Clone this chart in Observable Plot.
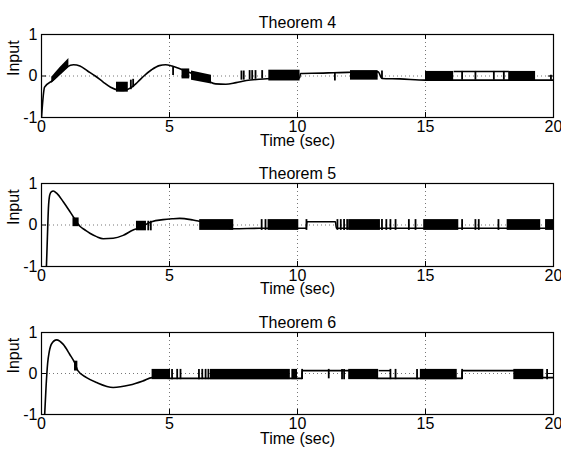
<!DOCTYPE html>
<html><head><meta charset="utf-8">
<script src="https://cdn.jsdelivr.net/npm/d3@7"></script>
<script src="https://cdn.jsdelivr.net/npm/@observablehq/plot@0.6"></script>
<style>body{margin:0;background:#fff}#chart svg{display:block}</style>
</head><body><div id="chart"></div>
<script>
const xTicks = [0, 5, 10, 15, 20];
const yTicks = [-1, 0, 1];
const titles = ["Theorem 4", "Theorem 5", "Theorem 6"];
const xLabel = "Time (sec)";
const yLabel = "Input";

// ---- Theorem 4 ----
const p1CurveT = [0, 0.12, 0.45, 0.7, 1.0, 1.25, 1.5, 1.8, 2.1, 2.4, 2.7, 3.0, 3.2, 3.5, 3.75, 4.0, 4.3, 4.6, 4.85, 5.1, 5.5, 6.0, 6.5, 6.8, 7.2, 7.6, 8.0, 8.5, 9.0, 10.08, 10.12, 11.0, 11.4, 12.1, 13.15, 13.3, 14.0, 15.0, 16.1, 18.25, 19.3, 20];
const p1CurveU = [-1, -0.27, -0.1, 0.05, 0.22, 0.27, 0.24, 0.12, 0.0, -0.14, -0.27, -0.34, -0.35, -0.28, -0.15, 0.0, 0.15, 0.25, 0.27, 0.24, 0.15, 0.03, -0.12, -0.19, -0.2, -0.16, -0.11, -0.08, -0.06, -0.05, 0.06, 0.07, 0.08, 0.09, 0.1, -0.06, -0.07, -0.1, -0.1, -0.1, -0.1, -0.1];
const p1BandId = ["a", "a", "a", "b", "b"];
const p1BandT = [0.4, 0.72, 1.07, 5.86, 6.64];
const p1BandLo = [-0.18, 0.0, 0.2, -0.1, -0.19];
const p1BandHi = [-0.03, 0.2, 0.42, 0.12, 0.02];
const p1BlockStart = [2.93, 5.49, 8.88, 12.07, 15.0, 18.25];
const p1BlockEnd = [3.39, 5.79, 10.1, 13.15, 16.1, 19.3];
const p1BlockLo = [-0.39, -0.07, -0.12, -0.1, -0.13, -0.12];
const p1BlockHi = [-0.15, 0.17, 0.14, 0.13, 0.11, 0.11];
const p1SpikeT = [3.49, 3.58, 5.14, 7.81, 7.9, 8.13, 8.23, 8.36, 8.62, 11.46, 13.3, 16.43, 16.95, 17.67, 18.06, 19.9];
const p1SpikeLo = [-0.33, -0.28, 0.01, -0.1, -0.1, -0.09, -0.09, -0.08, -0.07, -0.12, -0.06, -0.1, -0.1, -0.1, -0.1, -0.1];
const p1SpikeHi = [-0.1, -0.08, 0.21, 0.12, 0.12, 0.13, 0.13, 0.13, 0.13, 0.08, 0.12, 0.11, 0.11, 0.11, 0.11, 0.02];
const p1RailStart = [16.1];
const p1RailEnd = [18.25];
const p1RailU = [0.11];

// ---- Theorem 5 ----
const p2CurveT = [0.19, 0.23, 0.27, 0.32, 0.38, 0.46, 0.6, 0.85, 1.05, 1.24, 1.5, 1.7, 1.89, 2.15, 2.41, 2.8, 3.19, 3.58, 3.78, 4.3, 4.75, 5.1, 5.4, 5.92, 6.18, 7.51, 8.55, 10.05, 10.34, 10.37, 11.48, 11.52, 13.3, 14.9, 16.3, 17.8, 19.5, 20];
const p2CurveU = [-1.05, -0.3, 0.4, 0.72, 0.8, 0.82, 0.76, 0.56, 0.38, 0.2, -0.03, -0.12, -0.2, -0.28, -0.33, -0.32, -0.25, -0.12, -0.08, 0.08, 0.13, 0.15, 0.16, 0.12, 0.09, -0.09, -0.08, -0.08, -0.08, 0.08, 0.08, -0.08, -0.08, -0.08, -0.08, -0.08, -0.08, -0.08];
const p2BandId = [];
const p2BandT = [];
const p2BandLo = [];
const p2BandHi = [];
const p2BlockStart = [1.23, 3.71, 6.18, 8.85, 12.0, 14.93, 18.19, 19.69];
const p2BlockEnd = [1.47, 4.1, 7.51, 10.05, 13.24, 16.3, 19.5, 20];
const p2BlockLo = [-0.04, -0.14, -0.13, -0.13, -0.13, -0.13, -0.13, -0.13];
const p2BlockHi = [0.17, 0.09, 0.13, 0.13, 0.13, 0.13, 0.13, 0.13];
const p2SpikeT = [4.17, 4.27, 8.6, 8.75, 10.35, 11.56, 11.69, 11.82, 11.94, 13.3, 13.47, 13.63, 13.83, 14.35, 14.61, 16.43, 16.95, 17.08, 17.85];
const p2SpikeLo = [-0.14, -0.14, -0.13, -0.13, -0.13, -0.13, -0.13, -0.13, -0.13, -0.13, -0.13, -0.13, -0.13, -0.13, -0.13, -0.13, -0.13, -0.13, -0.13];
const p2SpikeHi = [0.09, 0.09, 0.13, 0.13, 0.13, 0.13, 0.13, 0.13, 0.13, 0.13, 0.13, 0.13, 0.13, 0.13, 0.13, 0.13, 0.13, 0.13, 0.13];
const p2RailStart = [];
const p2RailEnd = [];
const p2RailU = [];

// ---- Theorem 6 ----
const p3CurveT = [0.12, 0.18, 0.24, 0.3, 0.39, 0.59, 0.85, 1.1, 1.29, 1.42, 1.76, 2.15, 2.8, 3.45, 3.97, 4.32, 5.04, 10.0, 10.17, 10.19, 12.0, 13.17, 14.8, 16.24, 16.42, 16.44, 18.45, 19.62, 20];
const p3CurveU = [-1.05, -0.3, 0.25, 0.52, 0.72, 0.82, 0.71, 0.47, 0.27, 0.07, -0.1, -0.22, -0.34, -0.28, -0.18, -0.1, -0.12, -0.12, -0.12, 0.07, 0.07, -0.12, -0.12, -0.12, -0.12, 0.07, 0.07, -0.1, -0.1];
const p3BandId = [];
const p3BandT = [];
const p3BandLo = [];
const p3BandHi = [];
const p3BlockStart = [1.29, 4.32, 6.6, 9.78, 12.0, 14.8, 18.45];
const p3BlockEnd = [1.42, 5.04, 9.72, 10.0, 13.17, 16.24, 19.62];
const p3BlockLo = [0.06, -0.15, -0.15, -0.15, -0.15, -0.15, -0.15];
const p3BlockHi = [0.3, 0.1, 0.1, 0.1, 0.1, 0.1, 0.1];
const p3SpikeT = [5.1, 5.3, 5.43, 6.15, 6.28, 6.41, 6.52, 10.18, 11.22, 11.74, 11.82, 13.63, 13.83, 14.67, 16.43, 19.75];
const p3SpikeLo = [-0.15, -0.15, -0.15, -0.15, -0.15, -0.15, -0.15, -0.15, -0.13, -0.15, -0.15, -0.15, -0.15, -0.15, -0.15, -0.15];
const p3SpikeHi = [0.1, 0.1, 0.1, 0.1, 0.1, 0.1, 0.1, 0.1, 0.1, 0.1, 0.1, 0.1, 0.1, 0.1, 0.1, 0.1];
const p3RailStart = [13.17];
const p3RailEnd = [13.63];
const p3RailU = [0.07];

const panels = [
  {title: titles[0], curveT: p1CurveT, curveU: p1CurveU, bandId: p1BandId, bandT: p1BandT, bandLo: p1BandLo, bandHi: p1BandHi,
   blockStart: p1BlockStart, blockEnd: p1BlockEnd, blockLo: p1BlockLo, blockHi: p1BlockHi,
   spikeT: p1SpikeT, spikeLo: p1SpikeLo, spikeHi: p1SpikeHi, railStart: p1RailStart, railEnd: p1RailEnd, railU: p1RailU},
  {title: titles[1], curveT: p2CurveT, curveU: p2CurveU, bandId: p2BandId, bandT: p2BandT, bandLo: p2BandLo, bandHi: p2BandHi,
   blockStart: p2BlockStart, blockEnd: p2BlockEnd, blockLo: p2BlockLo, blockHi: p2BlockHi,
   spikeT: p2SpikeT, spikeLo: p2SpikeLo, spikeHi: p2SpikeHi, railStart: p2RailStart, railEnd: p2RailEnd, railU: p2RailU},
  {title: titles[2], curveT: p3CurveT, curveU: p3CurveU, bandId: p3BandId, bandT: p3BandT, bandLo: p3BandLo, bandHi: p3BandHi,
   blockStart: p3BlockStart, blockEnd: p3BlockEnd, blockLo: p3BlockLo, blockHi: p3BlockHi,
   spikeT: p3SpikeT, spikeLo: p3SpikeLo, spikeHi: p3SpikeHi, railStart: p3RailStart, railEnd: p3RailEnd, railU: p3RailU}
];

const layout = [
  {height: 150, marginTop: 34, marginBottom: 33, titleDy: -18, labelDy: 28},
  {height: 150, marginTop: 33, marginBottom: 34, titleDy: -16, labelDy: 27},
  {height: 153, marginTop: 32, marginBottom: 39, titleDy: -16, labelDy: 29}
];

const font = "'Liberation Sans', Arial, Helvetica, sans-serif";
const root = document.getElementById("chart");

panels.forEach((p, i) => {
  const curve = p.curveT.map((t, j) => ({t, u: p.curveU[j]}));
  const bands = p.bandT.map((t, j) => ({id: p.bandId[j], t, lo: p.bandLo[j], hi: p.bandHi[j]}));
  const blocks = p.blockStart.map((s, j) => ({s, e: p.blockEnd[j], lo: p.blockLo[j], hi: p.blockHi[j]}));
  const spikes = p.spikeT.map((t, j) => ({t, lo: p.spikeLo[j], hi: p.spikeHi[j]}));
  const rails = p.railStart.map((s, j) => ({s, e: p.railEnd[j], u: p.railU[j]}));
  const L = layout[i];
  const chart = Plot.plot({
    width: 561,
    height: L.height,
    marginLeft: 41,
    marginRight: 8,
    marginTop: L.marginTop,
    marginBottom: L.marginBottom,
    x: {domain: [0, 20]},
    y: {domain: [-1, 1]},
    style: {fontFamily: font, fontSize: "16px", color: "#000", background: "#fff", overflow: "visible"},
    marks: [
      Plot.gridX(xTicks.slice(1, -1), {stroke: "#777", strokeOpacity: 1, strokeDasharray: "1,3"}),
      Plot.gridY([0], {stroke: "#777", strokeOpacity: 1, strokeDasharray: "1,3"}),
      Plot.areaY(bands, {x: "t", y1: "lo", y2: "hi", z: "id", fill: "#000"}),
      Plot.rect(blocks, {x1: "s", x2: "e", y1: "lo", y2: "hi", fill: "#000"}),
      Plot.ruleX(spikes, {x: "t", y1: "lo", y2: "hi", stroke: "#000", strokeWidth: 1.8}),
      Plot.link(rails, {x1: "s", x2: "e", y1: "u", y2: "u", stroke: "#000", strokeWidth: 1.5}),
      Plot.line(curve, {x: "t", y: "u", stroke: "#000", strokeWidth: 1.6, curve: "monotone-x", clip: true}),
      Plot.ruleX(xTicks, {y1: -1, y2: -0.88, stroke: "#000"}),
      Plot.ruleX(xTicks, {y1: 1, y2: 0.88, stroke: "#000"}),
      Plot.ruleY(yTicks, {x1: 0, x2: 0.2, stroke: "#000"}),
      Plot.ruleY(yTicks, {x1: 20, x2: 19.8, stroke: "#000"}),
      Plot.frame({stroke: "#000", strokeWidth: 1.2}),
      Plot.axisX(xTicks, {tickSize: 0, tickPadding: 3, tickFormat: d => String(d), label: null, fontSize: 16}),
      Plot.axisY(yTicks, {tickSize: 0, tickPadding: 4, tickFormat: d => String(d), label: null, fontSize: 16}),
      Plot.text([p.title], {text: d => d, frameAnchor: "top", dy: L.titleDy, fill: "#000", fontSize: 16}),
      Plot.text([xLabel], {text: d => d, frameAnchor: "bottom", dy: L.labelDy, fill: "#000", fontSize: 16}),
      Plot.text([yLabel], {text: d => d, frameAnchor: "left", dx: -28, rotate: -90, fill: "#000", fontSize: 16})
    ]
  });
  root.appendChild(chart);
});
</script>
</body></html>
